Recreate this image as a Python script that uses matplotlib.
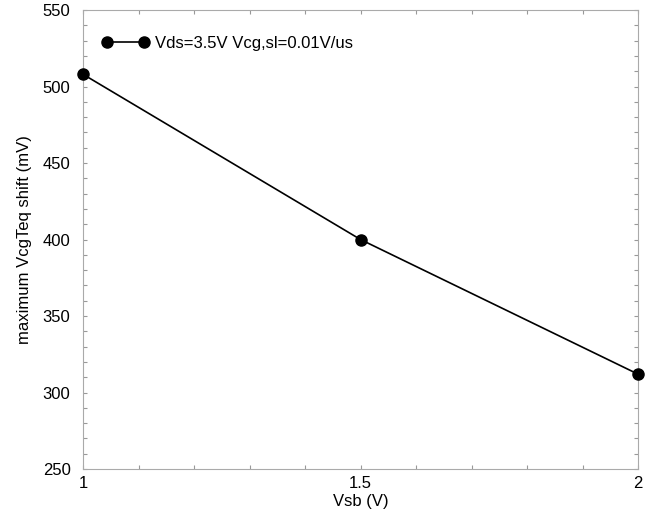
import matplotlib
matplotlib.use("Agg")
import matplotlib.pyplot as plt
import matplotlib.ticker as mt

plt.rcParams["font.family"] = ["Liberation Sans", "DejaVu Sans"]

vsb = [1.0, 1.5, 2.0]
shift = [508, 400, 312]
label = "Vds=3.5V Vcg,sl=0.01V/us"

fig = plt.figure(figsize=(6.70, 5.19), dpi=100)
ax = fig.add_axes([0.1239, 0.0963, 0.8284, 0.8844])

ax.plot(vsb, shift, "-o", color="black", lw=1.2, ms=8, label=label, clip_on=False, zorder=3)

ax.set_xlim(1, 2)
ax.set_ylim(250, 550)
ax.xaxis.set_major_locator(mt.MultipleLocator(0.5))
ax.xaxis.set_minor_locator(mt.MultipleLocator(0.1))
ax.yaxis.set_major_locator(mt.MultipleLocator(50))
ax.yaxis.set_minor_locator(mt.MultipleLocator(10))
ax.xaxis.set_major_formatter(mt.FuncFormatter(lambda v, p: f"{v:g}"))

ax.tick_params(which="both", direction="in", top=True, right=True, color="#999999",
               labelsize=12, length=3, width=0.8)
ax.tick_params(axis="y", pad=9)
ax.tick_params(axis="x", pad=5)
for s in ax.spines.values():
    s.set_color("#aaaaaa")
    s.set_linewidth(0.8)

ax.set_xlabel("Vsb (V)", fontsize=12, labelpad=2)
ax.set_ylabel("maximum VcgTeq shift (mV)", fontsize=12, labelpad=8)

ax.legend(loc="upper left", frameon=False, numpoints=2, fontsize=12,
          handlelength=2.8, handletextpad=0.35, bbox_to_anchor=(0.0, 0.985),
          borderaxespad=0.75)

fig.savefig("out.png", dpi=100)
